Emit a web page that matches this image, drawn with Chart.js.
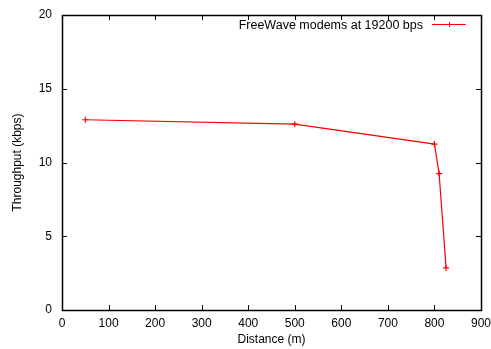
<!DOCTYPE html>
<html>
<head>
<meta charset="utf-8">
<script src="https://cdn.jsdelivr.net/npm/chart.js@4"></script>
<style>
  html, body { margin: 0; padding: 0; background: #fff; }
  #wrap { width: 491px; height: 349px; }
</style>
</head>
<body>
<div id="wrap"><canvas id="myChart" width="491" height="349"></canvas></div>
<script>
// values
const distance = [50, 500, 800, 810, 825];
const throughput = [12.9, 12.6, 11.25, 9.25, 2.85];
const seriesLabel = 'FreeWave modems at 19200 bps';
const xTicks = [0, 100, 200, 300, 400, 500, 600, 700, 800, 900];
const yTicks = [0, 5, 10, 15, 20];

const FONT = '"Liberation Sans", Arial, sans-serif';

// frame, inward ticks on all sides, axis titles and the legend, gnuplot style
const gnuplotFrame = {
  id: 'gnuplotFrame',
  afterDatasetsDraw(chart) {
    const c = chart.ctx;
    const a = chart.chartArea;
    const xs = chart.scales.x, ys = chart.scales.y;
    c.save();
    c.strokeStyle = '#000';
    c.lineWidth = 1;
    c.beginPath();
    xTicks.forEach(v => {
      const px = Math.round(xs.getPixelForValue(v)) + 0.5;
      c.moveTo(px, a.bottom); c.lineTo(px, a.bottom - 5);
      c.moveTo(px, a.top); c.lineTo(px, a.top + 5);
    });
    yTicks.forEach(v => {
      const py = Math.round(ys.getPixelForValue(v)) + 0.5;
      c.moveTo(a.left, py); c.lineTo(a.left + 5, py);
      c.moveTo(a.right, py); c.lineTo(a.right - 5, py);
    });
    c.stroke();
    c.lineWidth = 1.5;
    c.strokeRect(Math.round(a.left) + 0.5, Math.round(a.top) + 0.5,
                 Math.round(a.right - a.left), Math.round(a.bottom - a.top));

    // axis titles
    c.fillStyle = '#000';
    c.font = '12px ' + FONT;
    c.textAlign = 'center';
    c.textBaseline = 'alphabetic';
    c.fillText('Distance (m)', (a.left + a.right) / 2, 343);
    c.translate(21, (a.top + a.bottom) / 2);
    c.rotate(-Math.PI / 2);
    c.fillText('Throughput (kbps)', 0, 0);
    c.setTransform(1, 0, 0, 1, 0, 0);

    // legend
    c.font = '12.5px ' + FONT;
    c.textAlign = 'right';
    c.fillText(seriesLabel, 423, 29);
    c.strokeStyle = '#ff0000';
    c.lineWidth = 1;
    c.beginPath();
    c.moveTo(432, 24.5); c.lineTo(466, 24.5);
    c.moveTo(449.5, 22); c.lineTo(449.5, 27);
    c.moveTo(447, 24.5); c.lineTo(452, 24.5);
    c.stroke();
    c.restore();
  }
};

const ctx = document.getElementById('myChart');
const chart = new Chart(ctx, {
  type: 'scatter',
  data: {
    datasets: [{
      label: seriesLabel,
      data: distance.map((d, i) => ({ x: d, y: throughput[i] })),
      showLine: true,
      borderColor: '#ff0000',
      backgroundColor: '#ff0000',
      borderWidth: 1.2,
      pointStyle: 'cross',
      pointRadius: 3,
      pointBorderWidth: 1.2,
      pointBorderColor: '#ff0000'
    }]
  },
  options: {
    responsive: false,
    animation: false,
    devicePixelRatio: 1,
    layout: { padding: { top: 15, right: 10, left: 0, bottom: 0 } },
    plugins: { legend: { display: false }, tooltip: { enabled: false } },
    scales: {
      x: {
        type: 'linear',
        min: 0, max: 900,
        afterFit: s => { s.height = 39; s.paddingRight = 0; s.paddingLeft = 0; },
        afterBuildTicks: s => { s.ticks = xTicks.map(v => ({ value: v })); },
        grid: { display: false, drawTicks: false },
        border: { display: false },
        ticks: { color: '#000', font: { family: FONT, size: 12 }, padding: 6, maxRotation: 0, autoSkip: false }
      },
      y: {
        type: 'linear',
        min: 0, max: 20,
        afterFit: s => { s.width = 62; s.paddingTop = 0; s.paddingBottom = 0; },
        afterBuildTicks: s => { s.ticks = yTicks.map(v => ({ value: v })); },
        grid: { display: false, drawTicks: false },
        border: { display: false },
        ticks: { color: '#000', font: { family: FONT, size: 12 }, padding: 10 }
      }
    }
  },
  plugins: [gnuplotFrame]
});
</script>
</body>
</html>
